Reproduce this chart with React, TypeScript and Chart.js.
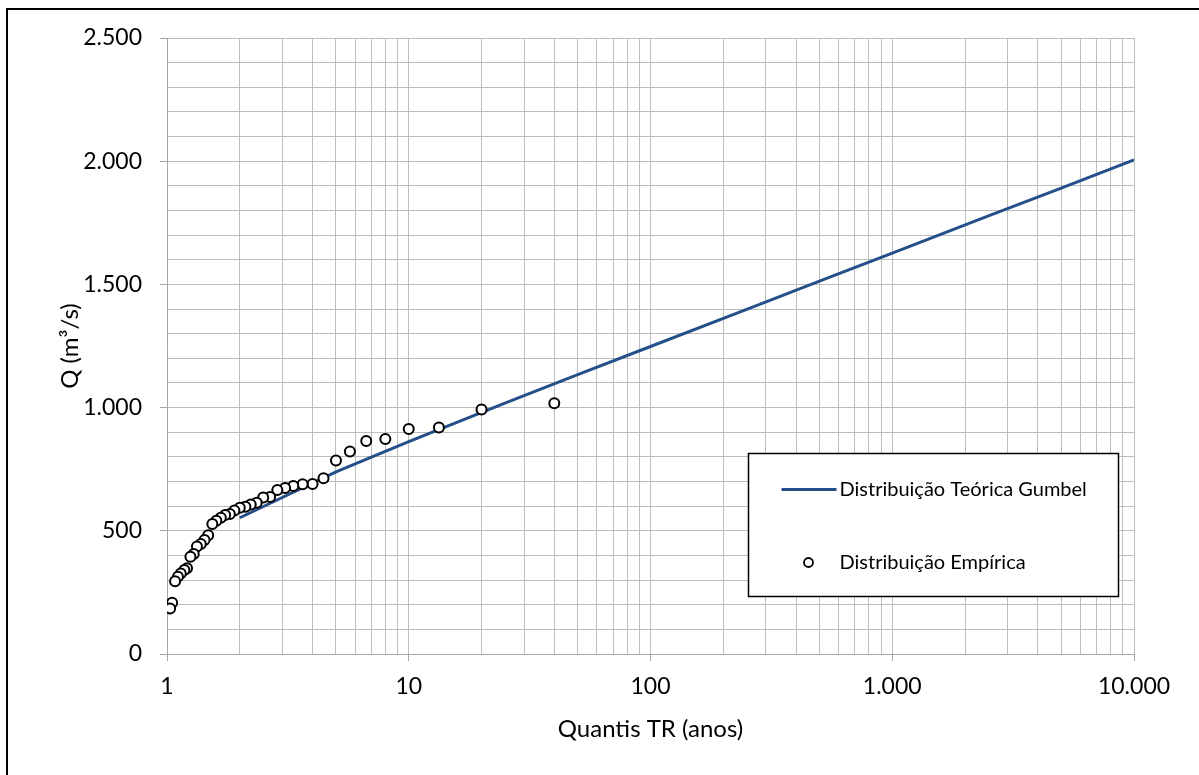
import React, { useEffect, useRef } from 'react';
import { Chart, registerables } from 'chart.js';

Chart.register(...registerables);

// Empirical distribution (Weibull plotting positions) – return period (years) and discharge (m³/s)
const EMP_T = [40, 20, 13.33, 10, 8, 6.67, 5.71, 5, 4.44, 4, 3.64, 3.33, 3.08, 2.86, 2.67, 2.5, 2.35, 2.22, 2.11, 2, 1.9, 1.82, 1.74, 1.67, 1.6, 1.54, 1.48, 1.43, 1.38, 1.33, 1.29, 1.25, 1.21, 1.18, 1.14, 1.11, 1.08, 1.05, 1.03];
const EMP_Q = [1018, 992, 919, 913, 873, 864, 822, 785, 713, 690, 689, 682, 674, 666, 637, 635, 614, 607, 598, 594, 582, 568, 564, 553, 541, 528, 482, 463, 446, 436, 406, 395, 348, 341, 327, 314, 295, 208, 185];

// Theoretical Gumbel distribution
const GUMBEL_T = [2, 5, 10, 25, 50, 100, 250, 500, 1000, 2500, 5000, 10000];
const GUMBEL_Q = [553, 739, 862, 1018, 1134, 1248, 1399, 1513, 1627, 1778, 1891, 2005];

const X_MAJOR_TICKS = [1, 10, 100, 1000, 10000];
const Y_MAJOR_STEP = 500;
const Y_MINOR_STEP = 100;
const Y_MIN = 0;
const Y_MAX = 2500;

const SERIES_LINE_LABEL = 'Distribuição Teórica Gumbel';
const SERIES_POINTS_LABEL = 'Distribuição Empírica';
const X_TITLE = 'Quantis TR (anos)';
const Y_TITLE = 'Q (m³/s)';

const LINE_COLOR = '#24508a';
const GRID_COLOR = '#bdbdbd';
const AXIS_COLOR = '#a6a6a6';
const FONT = 'Lato';

const fmt = (v: number) => String(Math.round(v)).replace(/\B(?=(\d{3})+(?!\d))/g, '.');

const pageBgPlugin = {
  id: 'pageBg',
  beforeDraw(chart: any) {
    const ctx = chart.ctx;
    ctx.save();
    ctx.fillStyle = '#ffffff';
    ctx.fillRect(0, 0, chart.width, chart.height);
    ctx.strokeStyle = '#000000';
    ctx.lineWidth = 2;
    ctx.beginPath();
    ctx.moveTo(7, chart.height + 5);
    ctx.lineTo(7, 9);
    ctx.lineTo(chart.width + 5, 9);
    ctx.stroke();
    ctx.restore();
  },
};

const legendBoxPlugin = {
  id: 'legendBox',
  afterDraw(chart: any) {
    const ctx = chart.ctx;
    const ca = chart.chartArea;
    const bx = ca.left + 581.5;
    const by = ca.top + 415.5;
    const bw = 370;
    const bh = 143;
    ctx.save();
    ctx.fillStyle = '#ffffff';
    ctx.fillRect(bx, by, bw, bh);
    ctx.strokeStyle = '#000000';
    ctx.lineWidth = 1.5;
    ctx.strokeRect(bx, by, bw, bh);

    const y1 = by + 36;
    const y2 = by + 109;
    ctx.strokeStyle = LINE_COLOR;
    ctx.lineWidth = 3;
    ctx.beginPath();
    ctx.moveTo(bx + 33, y1);
    ctx.lineTo(bx + 88, y1);
    ctx.stroke();

    ctx.beginPath();
    ctx.arc(bx + 60, y2, 4.5, 0, Math.PI * 2);
    ctx.fillStyle = '#ffffff';
    ctx.fill();
    ctx.strokeStyle = '#000000';
    ctx.lineWidth = 1.8;
    ctx.stroke();

    ctx.fillStyle = '#000000';
    ctx.font = `20px ${FONT}`;
    ctx.textBaseline = 'middle';
    ctx.textAlign = 'left';
    ctx.fillText(SERIES_LINE_LABEL, bx + 91, y1);
    ctx.fillText(SERIES_POINTS_LABEL, bx + 91, y2);
    ctx.restore();
  },
};

export default function App() {
  const ref = useRef<HTMLCanvasElement | null>(null);

  useEffect(() => {
    if (!ref.current) return;
    const xTicks: number[] = [];
    for (let d = 0; d < X_MAJOR_TICKS.length - 1; d++) {
      for (let m = 1; m < 10; m++) xTicks.push(m * X_MAJOR_TICKS[d]);
    }
    xTicks.push(X_MAJOR_TICKS[X_MAJOR_TICKS.length - 1]);

    const chart = new Chart(ref.current, {
      type: 'scatter',
      data: {
        datasets: [
          {
            label: SERIES_POINTS_LABEL,
            data: EMP_T.map((t, i) => ({ x: t, y: EMP_Q[i] })),
            showLine: false,
            pointRadius: 5,
            pointBorderWidth: 2,
            pointBorderColor: '#000000',
            pointBackgroundColor: '#ffffff',
            order: 0,
          },
          {
            label: SERIES_LINE_LABEL,
            data: GUMBEL_T.map((t, i) => ({ x: t, y: GUMBEL_Q[i] })),
            showLine: true,
            borderColor: LINE_COLOR,
            borderWidth: 3,
            pointRadius: 0,
            tension: 0,
            order: 1,
          },
        ],
      },
      options: {
        responsive: false,
        animation: false,
        devicePixelRatio: 1,
        layout: { padding: { top: 38, right: 65, left: 0, bottom: 0 } },
        plugins: {
          legend: { display: false },
          tooltip: { enabled: false },
        },
        scales: {
          x: {
            type: 'logarithmic',
            min: 1,
            max: 10000,
            afterBuildTicks: (scale: any) => {
              scale.ticks = xTicks.map((v) => ({ value: v }));
            },
            afterFit: (scale: any) => {
              scale.height = 121;
            },
            grid: {
              color: GRID_COLOR,
              lineWidth: 1,
              tickLength: 7,
              tickColor: (ctx: any) => (X_MAJOR_TICKS.includes(ctx.tick?.value) ? AXIS_COLOR : 'rgba(0,0,0,0)'),
            },
            border: { color: AXIS_COLOR, width: 1 },
            ticks: {
              autoSkip: false,
              maxRotation: 0,
              minRotation: 0,
              padding: 12,
              color: '#000000',
              font: { family: FONT, size: 23 },
              callback: (v: any) => (X_MAJOR_TICKS.includes(Number(v)) ? fmt(Number(v)) : ''),
            },
            title: {
              display: true,
              text: X_TITLE,
              color: '#000000',
              font: { family: FONT, size: 24 },
              padding: 31,
            },
          },
          y: {
            type: 'linear',
            min: Y_MIN,
            max: Y_MAX,
            afterFit: (scale: any) => {
              scale.width = 167;
            },
            grid: {
              color: GRID_COLOR,
              lineWidth: 1,
              tickLength: 7,
              tickColor: (ctx: any) => (ctx.tick && ctx.tick.value % Y_MAJOR_STEP === 0 ? AXIS_COLOR : 'rgba(0,0,0,0)'),
            },
            border: { color: AXIS_COLOR, width: 1 },
            ticks: {
              stepSize: Y_MINOR_STEP,
              maxTicksLimit: 100,
              autoSkip: false,
              padding: 18,
              color: '#000000',
              font: { family: FONT, size: 23 },
              callback: (v: any) => (Number(v) % Y_MAJOR_STEP === 0 ? fmt(Number(v)) : ''),
            },
            title: {
              display: true,
              text: Y_TITLE,
              color: '#000000',
              font: { family: FONT, size: 24 },
              padding: 56,
            },
          },
        },
      },
      plugins: [pageBgPlugin, legendBoxPlugin],
    } as any);
    return () => chart.destroy();
  }, []);

  return (
    <div style={{ position: 'fixed', left: 0, top: 0, width: 1199, height: 775, background: '#fff' }}>
      <canvas ref={ref} width={1199} height={775} style={{ display: 'block' }} />
    </div>
  );
}
